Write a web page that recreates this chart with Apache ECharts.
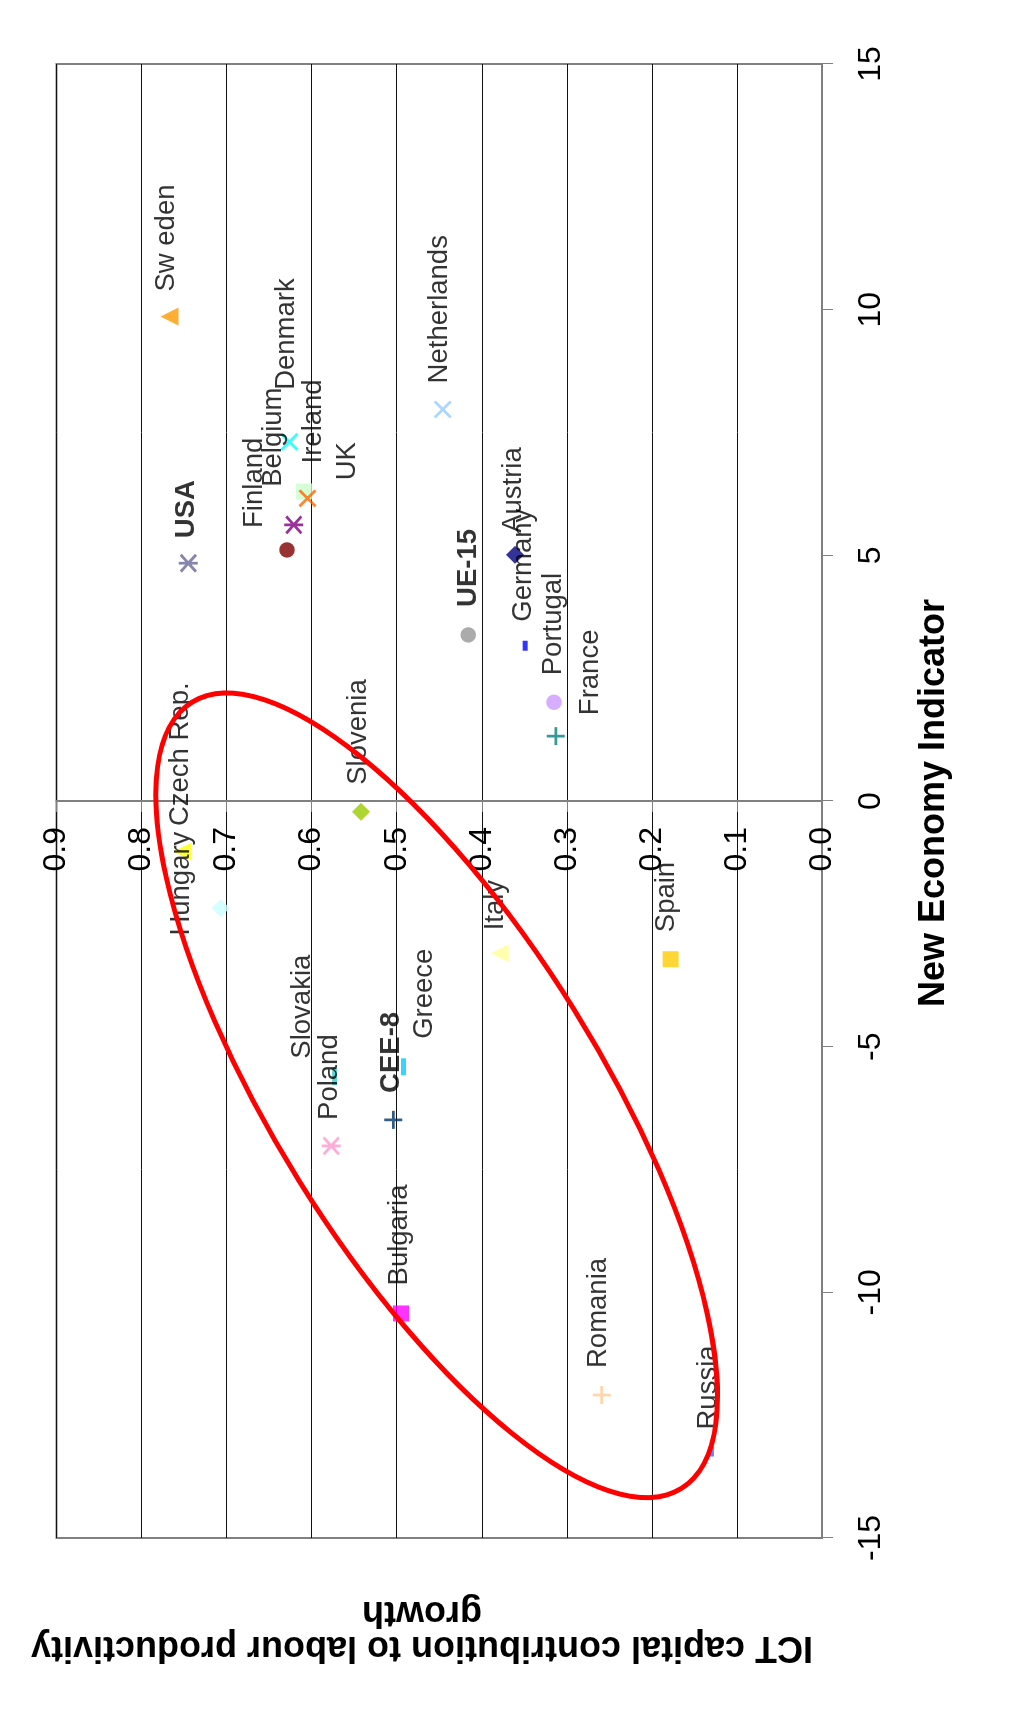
<!DOCTYPE html>
<html>
<head>
<meta charset="utf-8">
<title>New Economy Indicator vs ICT capital contribution</title>
<script src="https://cdn.jsdelivr.net/npm/echarts@6/dist/echarts.min.js"></script>
<style>
  html, body { margin: 0; padding: 0; background: #fff; }
  body { width: 1009px; height: 1726px; overflow: hidden; position: relative; }
  /* the chart is laid out landscape and turned a quarter turn to stand on the page */
  #chart {
    position: absolute; left: 0; top: 0;
    width: 1726px; height: 1009px;
    transform-origin: 0 0;
    transform: translate(0, 1726px) rotate(-90deg);
  }
  .rule { position: absolute; background: #1a1a1a; }
</style>
</head>
<body>
<div class="rule" style="left:0;top:0;width:1009px;height:2px"></div>
<div class="rule" style="left:6px;top:0;width:2px;height:1726px"></div>
<div class="rule" style="left:1005px;top:0;width:2px;height:1726px"></div>
<div class="rule" style="left:0;top:1723px;width:1009px;height:2px"></div>
<div style="position:absolute;left:0;top:1696px;width:6px;height:30px;background:#006a66"></div>
<div id="chart"></div>
<script>
// ---- data ----
const countries = ['Austria', 'Bulgaria', 'Hungary', 'Denmark', 'Belgium', 'Finland', 'France',
  'Germany', 'Greece', 'Czech Rep.', 'Ireland', 'Italy', 'Netherlands', 'Poland', 'Portugal',
  'Romania', 'Russia', 'Slovakia', 'Slovenia', 'Spain', 'Sw eden', 'UK', 'USA', 'UE-15', 'CEE-8'];
const newEconomyIndicator = [5.01, -10.43, -1.03, 7.31, 5.62, 5.11, 1.32,
  3.16, -5.41, -2.18, 6.30, -3.10, 7.97, -7.02, 2.01,
  -12.09, -13.24, -5.61, -0.22, -3.22, 9.86, 6.16, 4.84, 3.38, -6.49];
const ictContribution = [0.361, 0.495, 0.752, 0.626, 0.621, 0.629, 0.313,
  0.349, 0.492, 0.707, 0.609, 0.379, 0.446, 0.577, 0.315,
  0.259, 0.130, 0.573, 0.542, 0.178, 0.767, 0.605, 0.745, 0.416, 0.504];
const aggregates = ['USA', 'UE-15', 'CEE-8'];

const xTicks = [-15, -10, -5, 0, 5, 10, 15];
const yTicks = [0.0, 0.1, 0.2, 0.3, 0.4, 0.5, 0.6, 0.7, 0.8, 0.9];

// outlined group: centre [indicator, contribution]
const groupCentre = [-5.99, 0.453];

// ---- styles ----
const markerColors = ['#000080', '#FF00FF', '#FFFF00', '#00FFFF', '#800080', '#800000', '#008080',
  '#0000FF', '#00CCFF', '#CCFFFF', '#CCFFCC', '#FFFF99', '#99CCFF', '#FF99CC', '#CC99FF',
  '#FFCC99', '#3366FF', '#33CCCC', '#99CC00', '#FFCC00', '#FF9900', '#FF6600', '#666699', '#969696', '#003366'];
const markerKinds = ['diamond', 'square', 'triangle', 'cross', 'star', 'circle', 'plus',
  'dash', 'longDash', 'diamond', 'square', 'triangle', 'cross', 'star', 'circle',
  'plus', 'dash', 'longDash', 'diamond', 'square', 'triangle', 'cross', 'star', 'circle', 'plus'];
// label anchor (left, middle) relative to the marker centre, in px
const labelOffsets = [[22, -2], [28, -2], [-84, -1], [52, -3.5], [38, -20], [22, -33], [21, 35],
  [24, -2], [28, 21], [82, -40], [28, 9], [23, -4], [26, -3], [26, -2], [27, -1],
  [27, -3], [22, -3], [18, -32], [27, -3], [27, -4], [25, -3], [18, 40], [25, -2], [28, 0], [27, -2]];

const CROSS = 'M1,3 L3,1 L10,8 L17,1 L19,3 L12,10 L19,17 L17,19 L10,12 L3,19 L1,17 L8,10 Z';
const SYMBOLS = {
  diamond: { symbol: 'diamond', size: [18, 18] },
  square: { symbol: 'rect', size: [16, 16] },
  triangle: { symbol: 'triangle', size: [18, 18] },
  cross: { symbol: 'path://' + CROSS, size: [18, 18] },
  star: { symbol: 'path://' + CROSS + ' M8.7,0 L11.3,0 L11.3,20 L8.7,20 Z', size: [19, 19] },
  circle: { symbol: 'circle', size: [15.5, 15.5] },
  plus: { symbol: 'path://M8.5,0 L11.5,0 L11.5,8.5 L20,8.5 L20,11.5 L11.5,11.5 L11.5,20 L8.5,20 L8.5,11.5 L0,11.5 L0,8.5 L8.5,8.5 Z', size: [18, 18] },
  dash: { symbol: 'rect', size: [10, 5] },
  longDash: { symbol: 'rect', size: [17, 5] }
};

const FONT = "'Liberation Sans', Arial, Helvetica, sans-serif";
const GRID = { left: 188, right: 64, top: 56.5, bottom: 187 };

const points = countries.map(function (name, i) {
  const kind = SYMBOLS[markerKinds[i]];
  return {
    name: name,
    value: [newEconomyIndicator[i], ictContribution[i]],
    symbol: kind.symbol,
    symbolSize: kind.size,
    itemStyle: { color: markerColors[i] },
    label: {
      offset: labelOffsets[i],
      fontWeight: aggregates.indexOf(name) >= 0 ? 'bold' : 'normal'
    }
  };
});

const chart = echarts.init(document.getElementById('chart'), null, { renderer: 'canvas' });

chart.setOption({
  animation: false,
  backgroundColor: '#ffffff',
  textStyle: { fontFamily: FONT },
  grid: {
    left: GRID.left, right: GRID.right, top: GRID.top, bottom: GRID.bottom,
    show: true, borderColor: '#808080', borderWidth: 2, backgroundColor: '#ffffff'
  },
  xAxis: {
    type: 'value',
    min: xTicks[0], max: xTicks[xTicks.length - 1], interval: xTicks[1] - xTicks[0],
    axisLine: { show: true, lineStyle: { color: '#808080', width: 2 } },
    axisTick: { show: true, inside: false, length: 11, lineStyle: { color: '#808080', width: 1 } },
    axisLabel: { margin: 33, fontSize: 32, color: '#000', fontFamily: FONT,
      formatter: function (v) { return String(v); } },
    splitLine: { show: false }
  },
  yAxis: {
    type: 'value',
    min: yTicks[0], max: yTicks[yTicks.length - 1], interval: yTicks[1] - yTicks[0],
    axisLine: { show: true, onZero: false, lineStyle: { color: '#808080', width: 2 } },
    axisTick: { show: true, inside: false, length: 11, lineStyle: { color: '#808080', width: 1 } },
    axisLabel: { margin: 26, fontSize: 32, color: '#000', fontFamily: FONT,
      formatter: function (v) { return v.toFixed(1); } },
    splitLine: { show: true, lineStyle: { color: '#111', width: 1 } }
  },
  graphic: [
    {
      type: 'text', x: 923, y: 934, silent: true,
      style: { text: 'New Economy Indicator', font: 'bold 36px ' + FONT,
        fill: '#000', align: 'center', verticalAlign: 'middle' }
    },
    {
      type: 'text', x: 97, y: 422, rotation: Math.PI / 2, silent: true,
      style: { text: 'ICT capital contribution to labour productivity\ngrowth',
        font: 'bold 36px ' + FONT, lineHeight: 35,
        fill: '#000', align: 'center', verticalAlign: 'middle' }
    }
  ],
  series: [
    {
      type: 'scatter',
      z: 3,
      data: points,
      label: {
        show: true,
        position: 'inside',
        align: 'left',
        verticalAlign: 'middle',
        formatter: '{b}',
        fontSize: 27.5,
        fontFamily: FONT,
        color: '#000'
      },
      emphasis: { disabled: true }
    },
    {
      type: 'custom',
      z: 10,
      silent: true,
      clip: false,
      data: [groupCentre],
      renderItem: function (params, api) {
        const c = api.coord([api.value(0), api.value(1)]);
        return {
          type: 'ellipse',
          x: c[0], y: c[1],
          rotation: 0.557,
          shape: { cx: 0, cy: 0, rx: 463, ry: 162 },
          style: { fill: 'none', stroke: '#FF0000', lineWidth: 5 }
        };
      }
    }
  ]
});

// the contribution axis crosses the indicator axis at zero
const zeroX = chart.convertToPixel({ xAxisIndex: 0 }, 0);
chart.setOption({ yAxis: { offset: GRID.left - zeroX } });
</script>
</body>
</html>
